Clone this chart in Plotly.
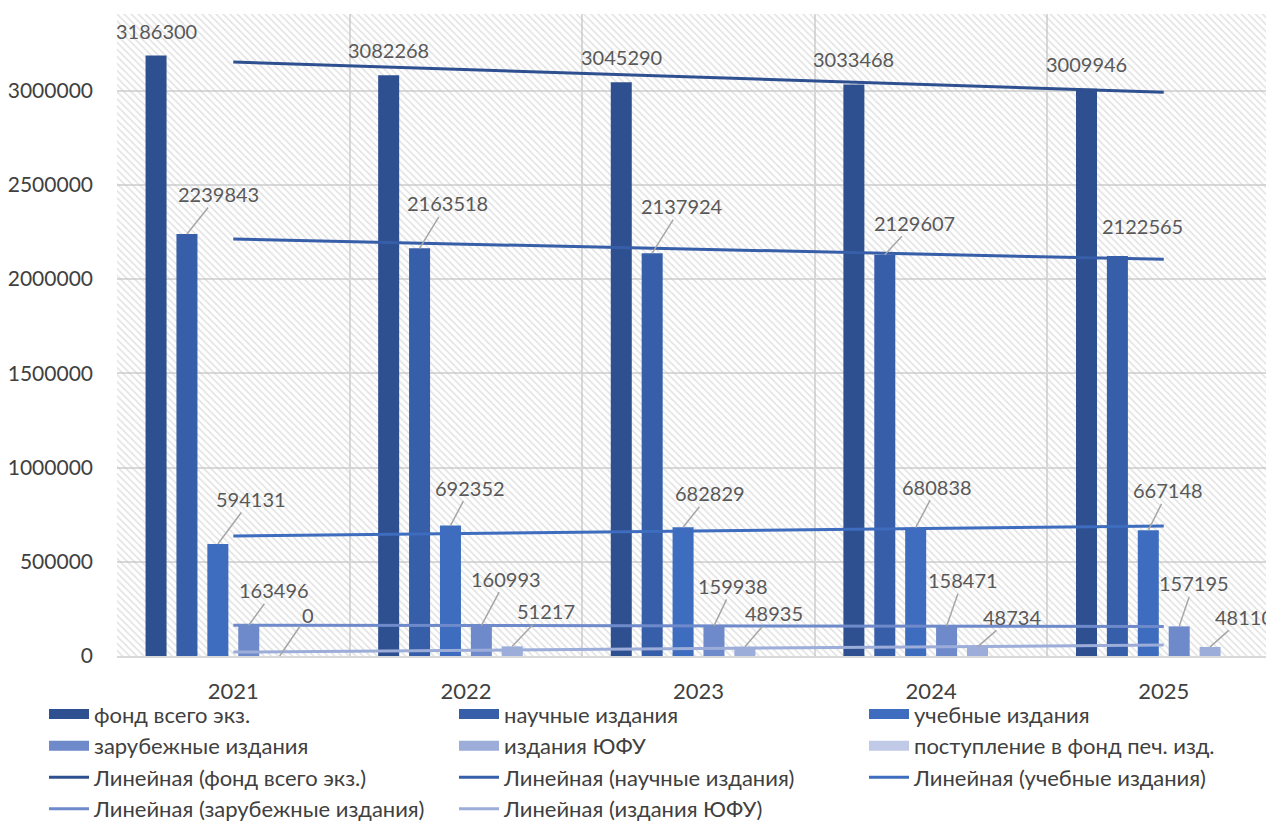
import numpy as np
import plotly.graph_objects as go

# ---------------- data ----------------
years = ["2021", "2022", "2023", "2024", "2025"]
series_names = [
    "фонд всего экз.",
    "научные издания",
    "учебные издания",
    "зарубежные издания",
    "издания ЮФУ",
    "поступление в фонд печ. изд.",
]
fond_total = [3186300, 3082268, 3045290, 3033468, 3009946]
nauchnye = [2239843, 2163518, 2137924, 2129607, 2122565]
uchebnye = [594131, 692352, 682829, 680838, 667148]
zarubezhnye = [163496, 160993, 159938, 158471, 157195]
izdaniya_yufu = [0, 51217, 48935, 48734, 48110]
postuplenie = [None, None, None, None, None]

all_series = [fond_total, nauchnye, uchebnye, zarubezhnye, izdaniya_yufu, postuplenie]
trend_series_idx = [0, 1, 2, 3, 4]

# ---------------- style ----------------
FONT = "Lato"
colors = ["#2F5090", "#375EA8", "#3E6CBE", "#6E8ACA", "#9DADD9", "#C0CAE6"]
LABEL_COLOR = "#595959"
AXIS_TEXT = "#404040"
GRID = "#d9d9d9"
Y_MAX = 3407000
X_RANGE = [-0.5, 4.474]
BARGAP = 0.203
BARGROUPGAP = 0.32
N_SLOTS = len(all_series)

# label offsets (pixels) from bar top: (dx, dy), and whether a leader line is drawn
label_offsets = [
    [(0, -25)] * 5,
    [(32, -40), (27.5, -45), (29.5, -47), (29.5, -32), (25.5, -30)],
    [(33.5, -45), (20, -38), (27, -34), (21.5, -41), (20, -40)],
    [(25.5, -35), (25, -47), (19, -40), (16, -46), (14.5, -43)],
    [(28, -41), (33.5, -35), (29.5, -34), (34.5, -30), (34, -30)],
]
leader = [
    [False] * 5,
    [True, True, True, True, False],
    [True] * 5,
    [True] * 5,
    [True] * 5,
]

fig = go.Figure()

# hatched plot background (main axes, under the data overlay)
fig.add_trace(go.Bar(
    x=years, y=[Y_MAX] * len(years), width=[1.0] * len(years),
    xaxis="x", yaxis="y",
    marker=dict(color="rgba(0,0,0,0)", line=dict(width=0),
                pattern=dict(shape="\\", fgcolor="#c4c4c4", bgcolor="rgba(0,0,0,0)",
                             size=5, solidity=0.3)),
    showlegend=False, hoverinfo="skip",
))

# data bars
for j, (name, vals) in enumerate(zip(series_names, all_series)):
    fig.add_trace(go.Bar(
        x=years, y=vals, name=name, xaxis="x2", yaxis="y2",
        legendgroup=name, showlegend=False,
        marker=dict(color=colors[j], line=dict(width=0)),
    ))

# legend keys for the bar series (wide rectangles like the original)
for j, name in enumerate(series_names):
    fig.add_trace(go.Scatter(
        x=[None], y=[None], mode="lines", name=name, legendgroup=name,
        xaxis="x2", yaxis="y2", line=dict(color=colors[j], width=15),
    ))

# linear trendlines
xi = np.arange(len(years))
for j in trend_series_idx:
    vals = np.array(all_series[j], dtype=float)
    k, b = np.polyfit(xi, vals, 1)
    fig.add_trace(go.Scatter(
        x=years, y=k * xi + b, mode="lines", xaxis="x2", yaxis="y2",
        name=f"Линейная ({series_names[j]})",
        line=dict(color=colors[j], width=3),
    ))

# data labels
slot = (1 - BARGAP) / N_SLOTS
annotations = []
for j in trend_series_idx:
    for i, v in enumerate(all_series[j]):
        if v is None:
            continue
        xpos = i - (1 - BARGAP) / 2 + (j + 0.5) * slot
        dx, dy = label_offsets[j][i]
        if leader[j][i]:
            annotations.append(dict(
                x=xpos, y=v, xref="x2", yref="y2", text=str(v),
                showarrow=True, arrowhead=0, arrowwidth=1.5, arrowcolor="#a6a6a6",
                ax=dx, ay=dy, standoff=0,
                font=dict(family=FONT, size=20, color=LABEL_COLOR),
            ))
        else:
            annotations.append(dict(
                x=xpos, y=v, xref="x2", yref="y2", text=str(v),
                showarrow=False, xshift=dx, yshift=-dy,
                font=dict(family=FONT, size=20, color=LABEL_COLOR),
            ))

fig.update_layout(
    width=1266, height=832,
    margin=dict(l=105, r=0, t=6, b=184),
    paper_bgcolor="white", plot_bgcolor="white",
    barmode="group", bargap=BARGAP, bargroupgap=BARGROUPGAP,
    font=dict(family=FONT, size=20, color=AXIS_TEXT),
    annotations=annotations,
    hovermode=False,
    xaxis=dict(
        type="category", categoryorder="array", categoryarray=years,
        range=X_RANGE, tickson="boundaries", showgrid=True,
        gridcolor=GRID, gridwidth=2, ticks="", showline=True,
        linecolor=GRID, linewidth=2, ticklabelstandoff=15,
        tickfont=dict(family=FONT, size=22, color=AXIS_TEXT),
        fixedrange=True,
    ),
    yaxis=dict(
        range=[0, Y_MAX], dtick=500000, tick0=0, showgrid=True,
        gridcolor=GRID, gridwidth=2, zeroline=False, ticks="",
        ticklabelstandoff=23, tickformat="d",
        tickfont=dict(family=FONT, size=21, color=AXIS_TEXT),
        fixedrange=True,
    ),
    xaxis2=dict(
        type="category", categoryorder="array", categoryarray=years,
        range=X_RANGE, overlaying="x", visible=False, fixedrange=True,
    ),
    yaxis2=dict(range=[0, Y_MAX], overlaying="y", visible=False, fixedrange=True),
    legend=dict(
        orientation="h", x=-0.057, xanchor="left", y=-0.058, yanchor="top",
        entrywidth=355, itemwidth=40, traceorder="normal",
        font=dict(family=FONT, size=22, color=AXIS_TEXT),
        bgcolor="rgba(0,0,0,0)",
    ),
)

fig.write_html("out.html")
